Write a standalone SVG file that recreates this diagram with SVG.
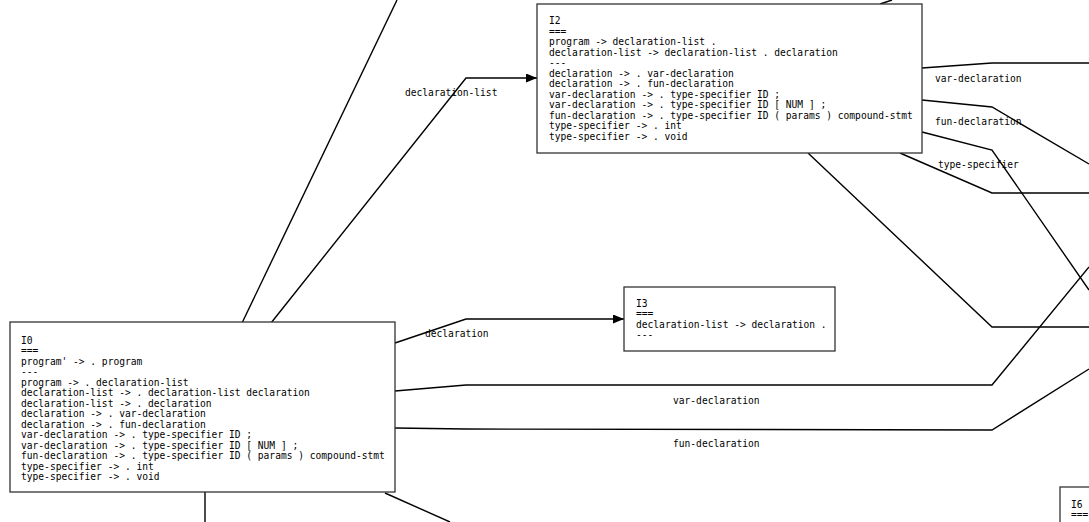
<svg xmlns="http://www.w3.org/2000/svg" width="1089" height="522" viewBox="0 0 1089 522">
<defs>
<marker id="arr" markerWidth="11" markerHeight="9" refX="11" refY="4.5" orient="auto" markerUnits="userSpaceOnUse">
<path d="M0,0 L11,4.5 L0,9 Z" fill="#000"/>
</marker>
<style>
.node rect{fill:#fff;stroke:#333;stroke-width:1.3}
.t{font-family:"DejaVu Sans Mono","Liberation Mono",monospace;font-size:9.6px;fill:#000}
.e{fill:none;stroke:#000;stroke-width:1.4}
</style>
</defs>
<rect width="1089" height="522" fill="#fff"/>
<g id="connectors">
<polyline class="e" points="242,323 397,0"/>
<polyline class="e" points="271,323 466,78 537,78" marker-end="url(#arr)"/>
<polyline class="e" points="395,343 466,319 624,319" marker-end="url(#arr)"/>
<polyline class="e" points="395,391 466,385 992,385 1089,267"/>
<polyline class="e" points="395,428 466,429 992,430 1089,369"/>
<polyline class="e" points="205,492 205,522"/>
<polyline class="e" points="385,493 450,522"/>
<polyline class="e" points="880,4 892,0"/>
<polyline class="e" points="922,68 992,63 1089,63"/>
<polyline class="e" points="922,100 992,107 1089,164"/>
<polyline class="e" points="922,132 992,150 1089,290"/>
<polyline class="e" points="900,153 992,193 1089,193"/>
<polyline class="e" points="808,153 992,327 1089,327"/>
<text class="t" x="405" y="96">declaration-list</text>
<text class="t" x="425" y="337">declaration</text>
<text class="t" x="673" y="404">var-declaration</text>
<text class="t" x="673" y="447">fun-declaration</text>
<text class="t" x="935" y="82">var-declaration</text>
<text class="t" x="935" y="125">fun-declaration</text>
<text class="t" x="938" y="168">type-specifier</text>
</g>
<g id="I0" class="node">
<rect x="10" y="322" width="385" height="170"/>
<text class="t" x="21" y="343.5">I0</text>
<text class="t" x="21" y="354">===</text>
<text class="t" x="21" y="364.5">program' -&gt; . program</text>
<text class="t" x="21" y="375">---</text>
<text class="t" x="21" y="385.5">program -&gt; . declaration-list</text>
<text class="t" x="21" y="396">declaration-list -&gt; . declaration-list declaration</text>
<text class="t" x="21" y="406.5">declaration-list -&gt; . declaration</text>
<text class="t" x="21" y="417">declaration -&gt; . var-declaration</text>
<text class="t" x="21" y="427.5">declaration -&gt; . fun-declaration</text>
<text class="t" x="21" y="438">var-declaration -&gt; . type-specifier ID ;</text>
<text class="t" x="21" y="448.5">var-declaration -&gt; . type-specifier ID [ NUM ] ;</text>
<text class="t" x="21" y="459">fun-declaration -&gt; . type-specifier ID ( params ) compound-stmt</text>
<text class="t" x="21" y="469.5">type-specifier -&gt; . int</text>
<text class="t" x="21" y="480">type-specifier -&gt; . void</text>
</g>
<g id="I2" class="node">
<rect x="537" y="4" width="385" height="149"/>
<text class="t" x="549" y="24">I2</text>
<text class="t" x="549" y="34.5">===</text>
<text class="t" x="549" y="45">program -&gt; declaration-list .</text>
<text class="t" x="549" y="55.5">declaration-list -&gt; declaration-list . declaration</text>
<text class="t" x="549" y="66">---</text>
<text class="t" x="549" y="76.5">declaration -&gt; . var-declaration</text>
<text class="t" x="549" y="87">declaration -&gt; . fun-declaration</text>
<text class="t" x="549" y="97.5">var-declaration -&gt; . type-specifier ID ;</text>
<text class="t" x="549" y="108">var-declaration -&gt; . type-specifier ID [ NUM ] ;</text>
<text class="t" x="549" y="118.5">fun-declaration -&gt; . type-specifier ID ( params ) compound-stmt</text>
<text class="t" x="549" y="129">type-specifier -&gt; . int</text>
<text class="t" x="549" y="139.5">type-specifier -&gt; . void</text>
</g>
<g id="I3" class="node">
<rect x="624" y="287" width="211" height="64"/>
<text class="t" x="636" y="306.5">I3</text>
<text class="t" x="636" y="317">===</text>
<text class="t" x="636" y="327.5">declaration-list -&gt; declaration .</text>
<text class="t" x="636" y="338">---</text>
</g>
<g id="I6" class="node">
<rect x="1060" y="487" width="40" height="50"/>
<text class="t" x="1071" y="507.5">I6</text>
<text class="t" x="1071" y="518">===</text>
</g>
</svg>
